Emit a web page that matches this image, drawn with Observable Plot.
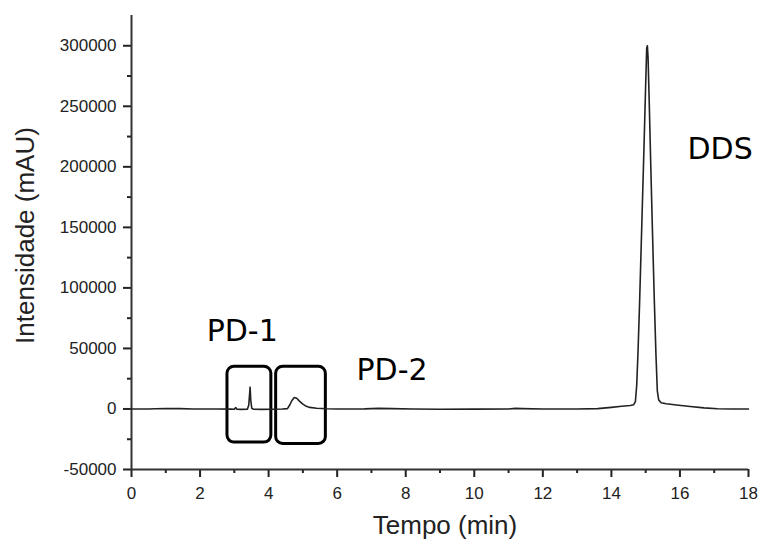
<!DOCTYPE html>
<html><head><meta charset="utf-8">
<script src="https://cdn.jsdelivr.net/npm/d3@7"></script>
<script src="https://cdn.jsdelivr.net/npm/@observablehq/plot@0.6"></script>
<style>body{margin:0;background:#fff}</style>
</head><body><div id="chart"></div>
<script>
const time = [0.0,0.5,0.7,1.0,1.4,1.8,2.5,2.9,3.0,3.04,3.07,3.2,3.38,3.42,3.45,3.46,3.48,3.51,3.56,3.8,4.1,4.4,4.55,4.62,4.68,4.75,4.82,4.9,5.0,5.1,5.2,5.4,5.7,6.0,6.8,7.2,7.6,8.2,9.0,10.0,11.0,11.2,11.4,12.0,13.0,13.6,14.0,14.3,14.55,14.65,14.70,14.74,14.78,14.82,14.86,14.90,14.95,15.00,15.03,15.05,15.07,15.10,15.15,15.20,15.25,15.30,15.34,15.38,15.45,15.6,15.9,16.3,16.7,17.1,17.5,18.0];
const intensity = [0,0,200,400,300,0,0,-100,-200,1200,-100,-300,-200,3000,14000,18000,7000,500,-200,-300,-200,0,300,3500,7000,9500,8800,6500,4000,2200,1300,600,200,0,100,500,300,0,-200,-100,0,500,300,0,0,300,1300,2200,2800,3500,6000,20000,50000,85000,125000,165000,215000,268000,298000,300000,290000,258000,200000,145000,92000,45000,15000,7500,5200,4300,3300,2000,900,200,0,0];

const xMajorTicks = [0,2,4,6,8,10,12,14,16,18];
const xMinorTicks = [1,3,5,7,9,11,13,15,17];
const yMajorTicks = [-50000,0,50000,100000,150000,200000,250000,300000];
const yMinorTicks = [-25000,25000,75000,125000,175000,225000,275000];

const boxX1 = [2.80, 4.22];
const boxX2 = [4.08, 5.67];
const boxY1 = [-27800, -28900];
const boxY2 = [34900, 34900];

const peakLabels = ["PD-1", "PD-2", "DDS"];
const peakLabelX = [3.23, 7.6, 17.17];
const peakLabelY = [56400, 24257, 206600];

const points = time.map((t, i) => ({t, v: intensity[i]}));
const boxes = boxX1.map((x1, i) => ({x1, x2: boxX2[i], y1: boxY1[i], y2: boxY2[i]}));
const labels = peakLabels.map((s, i) => ({s, x: peakLabelX[i], y: peakLabelY[i]}));

const chart = Plot.plot({
  width: 762, height: 540,
  marginLeft: 131, marginRight: 14, marginTop: 15, marginBottom: 71,
  x: {domain: [0, 18]},
  y: {domain: [-50000, 325000]},
  style: {fontFamily: "'Liberation Sans', Arial, sans-serif", fontSize: "17px", color: "#222", background: "#fff"},
  marks: [
    Plot.axisX({ticks: xMinorTicks, tickSize: 4, tickFormat: () => "", label: null, strokeWidth: 2}),
    Plot.axisX({ticks: xMajorTicks, tickSize: 8, tickPadding: 9, tickFormat: d => String(d), label: null, strokeWidth: 2, fontSize: 17}),
    Plot.axisY({ticks: yMinorTicks, tickSize: 4, tickFormat: () => "", label: null, strokeWidth: 2}),
    Plot.axisY({ticks: yMajorTicks, tickSize: 8, tickPadding: 7, tickFormat: d => String(d), label: null, strokeWidth: 2, fontSize: 17}),
    Plot.ruleX([0], {stroke: "#333", strokeWidth: 2}),
    Plot.ruleY([-50000], {stroke: "#333", strokeWidth: 2}),
    Plot.rect(boxes, {x1: "x1", x2: "x2", y1: "y1", y2: "y2", rx: 7, fill: "none", stroke: "#000", strokeWidth: 3}),
    Plot.line(points, {x: "t", y: "v", stroke: "#222", strokeWidth: 1.6}),
    Plot.text(labels, {x: "x", y: "y", text: "s", fontFamily: "'DejaVu Sans', sans-serif", fontSize: 30, lineAnchor: "bottom", fill: "#000"}),
    Plot.text(["Tempo (min)"], {frameAnchor: "bottom", textAnchor: "middle", lineAnchor: "bottom", dy: 64, dx: 5, fontSize: 26, fill: "#222"}),
    Plot.text(["Intensidade (mAU)"], {frameAnchor: "left", textAnchor: "middle", rotate: -90, dx: -106, dy: -7, fontSize: 26, fill: "#222"})
  ]
});
document.getElementById("chart").appendChild(chart);
</script>
</body></html>
